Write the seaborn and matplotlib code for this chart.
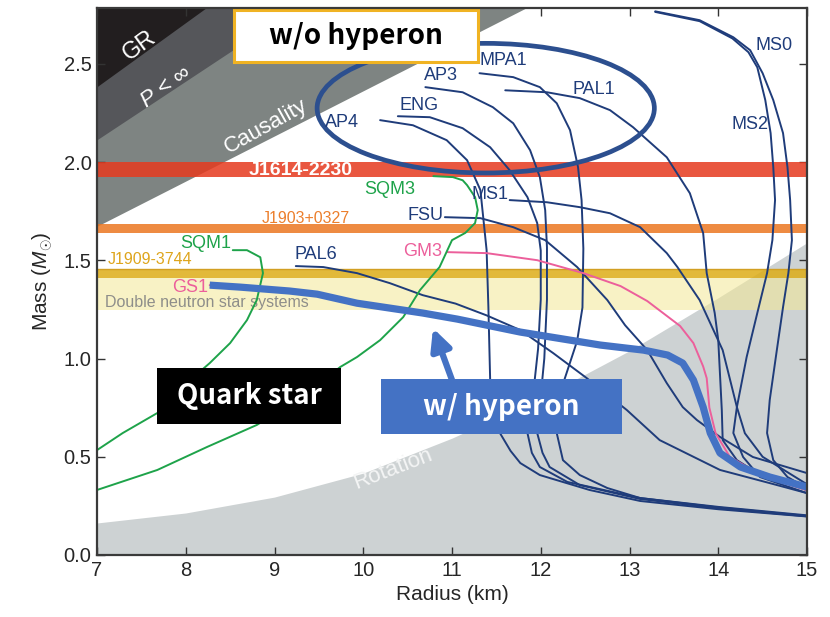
import matplotlib
matplotlib.use("Agg")
import matplotlib.pyplot as plt
from matplotlib.patches import Ellipse, Rectangle, Polygon
import seaborn as sns

# ---------------- mass-radius relations: radius (km), mass (M_sun) ----------------
ap4_r = [10.19, 10.56, 10.94, 11.17, 11.32, 11.39, 11.41, 11.43, 11.48, 11.54, 11.66, 11.77, 11.99, 12.55, 13.12, 14.0, 15.0]
ap4_m = [2.214, 2.188, 2.112, 2.010, 1.858, 1.552, 1.262, 0.891, 0.72, 0.621, 0.53, 0.468, 0.407, 0.331, 0.275, 0.233, 0.196]

eng_r = [10.39, 10.75, 11.12, 11.43, 11.65, 11.85, 11.96, 12.00, 12.00, 11.97, 11.91, 11.85, 11.90, 11.99, 12.30, 13.12, 14.0, 15.0]
eng_m = [2.234, 2.229, 2.173, 2.076, 1.959, 1.822, 1.690, 1.55, 1.30, 1.05, 0.80, 0.621, 0.52, 0.448, 0.372, 0.29, 0.242, 0.199]

ap3_r = [10.70, 11.12, 11.46, 11.69, 11.88, 11.99, 12.05, 12.07, 12.07, 12.04, 11.96, 12.02, 12.10, 12.44, 13.12, 14.0, 15.0]
ap3_m = [2.382, 2.356, 2.280, 2.198, 2.061, 1.924, 1.756, 1.567, 1.30, 1.0, 0.621, 0.52, 0.448, 0.356, 0.285, 0.238, 0.197]

mpa1_r = [11.31, 11.69, 11.99, 12.18, 12.33, 12.42, 12.46, 12.48, 12.47, 12.41, 12.25, 12.18, 12.25, 12.44, 12.75, 13.12, 14.0, 15.0]
mpa1_m = [2.453, 2.433, 2.382, 2.300, 2.163, 1.975, 1.807, 1.56, 1.26, 1.09, 0.87, 0.621, 0.483, 0.407, 0.341, 0.29, 0.245, 0.202]

pal1_r = [11.60, 12.07, 12.44, 12.78, 13.04, 13.42, 13.68, 13.83, 13.87, 13.96, 14.00, 14.04, 14.05, 14.21, 14.44, 15.0]
pal1_m = [2.366, 2.356, 2.326, 2.265, 2.178, 2.025, 1.842, 1.639, 1.435, 1.232, 1.094, 0.738, 0.585, 0.483, 0.417, 0.33]

ms0_r = [13.29, 13.79, 14.17, 14.36, 14.50, 14.62, 14.73, 14.78, 14.81, 14.83, 14.79, 14.73, 14.66, 14.58, 14.55, 14.62, 14.78, 15.0]
ms0_m = [2.768, 2.723, 2.636, 2.570, 2.453, 2.316, 2.148, 1.975, 1.807, 1.603, 1.435, 1.262, 1.043, 0.789, 0.621, 0.483, 0.397, 0.34]

ms2_r = [13.29, 13.79, 14.16, 14.34, 14.44, 14.53, 14.59, 14.62, 14.64, 14.61, 14.55, 14.44, 14.32, 14.21, 14.17, 14.28, 14.47, 15.0]
ms2_m = [2.765, 2.718, 2.630, 2.560, 2.483, 2.316, 2.148, 1.975, 1.807, 1.603, 1.435, 1.232, 1.008, 0.753, 0.621, 0.499, 0.397, 0.315]

ms1_r = [11.65, 12.07, 12.44, 12.78, 13.12, 13.42, 13.54, 13.79, 14.05, 14.21, 14.30, 14.50, 15.0]
ms1_m = [1.807, 1.796, 1.771, 1.740, 1.669, 1.537, 1.466, 1.298, 1.043, 0.753, 0.62, 0.50, 0.36]

fsu_r = [10.92, 11.32, 11.69, 12.05, 12.41, 12.75, 12.95, 13.20, 13.42, 13.60, 13.76, 14.02, 14.39, 15.0]
fsu_m = [1.720, 1.715, 1.669, 1.603, 1.466, 1.298, 1.17, 1.043, 0.875, 0.753, 0.687, 0.601, 0.499, 0.417]

pal6_r = [9.24, 9.55, 9.93, 10.30, 10.67, 11.04, 11.39, 11.77, 12.14, 12.52, 12.97, 13.34, 14.02, 14.58, 15.0]
pal6_m = [1.471, 1.466, 1.435, 1.384, 1.323, 1.28, 1.22, 1.145, 1.028, 0.90, 0.738, 0.585, 0.433, 0.366, 0.315]

gm3_r = [10.95, 11.39, 11.96, 12.48, 12.90, 13.20, 13.57, 13.72, 13.83, 13.87, 13.90, 13.97, 14.13, 14.50, 15.0]
gm3_m = [1.542, 1.537, 1.501, 1.435, 1.369, 1.293, 1.166, 1.079, 0.96, 0.90, 0.75, 0.62, 0.50, 0.40, 0.33]

gs1_r = [8.27, 8.61, 9.17, 9.48, 9.93, 10.67, 11.06, 11.77, 12.67, 13.16, 13.43, 13.60, 13.72, 13.83, 13.91, 14.02, 14.25, 14.58, 15.0]
gs1_m = [1.374, 1.364, 1.344, 1.328, 1.282, 1.232, 1.201, 1.135, 1.069, 1.043, 1.018, 0.977, 0.891, 0.753, 0.621, 0.519, 0.448, 0.397, 0.346]

sqm1_r = [8.53, 8.69, 8.84, 8.87, 8.80, 8.69, 8.50, 8.27, 8.05, 7.68, 7.29, 7.0]
sqm1_m = [1.552, 1.552, 1.516, 1.435, 1.298, 1.196, 1.079, 0.977, 0.891, 0.723, 0.621, 0.534]

sqm3_r = [10.79, 11.01, 11.12, 11.17, 11.26, 11.29, 11.26, 11.15, 11.0, 10.86, 10.64, 10.45, 10.19, 9.93, 9.74, 9.30, 8.80, 8.24, 7.68, 7.0]
sqm3_m = [1.929, 1.924, 1.908, 1.883, 1.822, 1.756, 1.690, 1.64, 1.603, 1.466, 1.349, 1.211, 1.094, 1.008, 0.957, 0.80, 0.662, 0.550, 0.433, 0.331]

# ---------------- excluded regions ----------------
gr_edge_r, gr_edge_m = [7.0, 8.24], [2.38, 2.785]          # general relativity
buch_edge_r, buch_edge_m = [7.0, 9.26], [2.11, 2.785]      # finite pressure
caus_edge_r, caus_edge_m = [7.0, 11.85], [1.67, 2.785]     # causality
rot_r = [7, 8, 9, 10, 11, 12, 13, 14, 15]                  # rotation (716 Hz)
rot_m = [0.163, 0.214, 0.295, 0.417, 0.595, 0.80, 1.04, 1.31, 1.59]

# ---------------- measured masses (lower, upper) ----------------
band_names = ["J1614-2230", "J1903+0327", "J1909-3744", "Double neutron star systems"]
band_lo = [1.925, 1.640, 1.410, 1.245]
band_hi = [2.000, 1.685, 1.455, 1.410]

NAVY = "#1f3c7a"
PINK = "#ec5f9b"
GREEN = "#1ea34a"
BLUE = "#4472c4"

curves = [
    ("AP4", ap4_r, ap4_m, NAVY), ("ENG", eng_r, eng_m, NAVY), ("AP3", ap3_r, ap3_m, NAVY),
    ("MPA1", mpa1_r, mpa1_m, NAVY), ("PAL1", pal1_r, pal1_m, NAVY), ("MS0", ms0_r, ms0_m, NAVY),
    ("MS2", ms2_r, ms2_m, NAVY), ("MS1", ms1_r, ms1_m, NAVY), ("FSU", fsu_r, fsu_m, NAVY),
    ("PAL6", pal6_r, pal6_m, NAVY), ("GM3", gm3_r, gm3_m, PINK), ("GS1", gs1_r, gs1_m, PINK),
    ("SQM1", sqm1_r, sqm1_m, GREEN), ("SQM3", sqm3_r, sqm3_m, GREEN),
]

sns.set_theme(style="ticks")
plt.rcParams["font.family"] = ["Liberation Sans", "DejaVu Sans"]
plt.rcParams["mathtext.fontset"] = "custom"
plt.rcParams["mathtext.it"] = "Liberation Sans:italic"
plt.rcParams["mathtext.rm"] = "Liberation Sans"

fig = plt.figure(figsize=(8.3, 6.17), dpi=100)
ax = fig.add_axes([97 / 830, 62 / 617, 710 / 830, 547 / 617])
ax.set_xlim(7, 15)
ax.set_ylim(0, 2.785)

TOP = 3.2
ax.fill_between(rot_r, 0, rot_m, color="#cdd2d3", lw=0, zorder=0)
ax.add_patch(Polygon([(caus_edge_r[0], caus_edge_m[0]), (caus_edge_r[1], caus_edge_m[1]),
                      (caus_edge_r[1], TOP), (caus_edge_r[0], TOP)], closed=True,
                     facecolor="#7e8482", lw=0, zorder=0.2))
ax.add_patch(Polygon([(buch_edge_r[0], buch_edge_m[0]), (buch_edge_r[1], buch_edge_m[1]),
                      (buch_edge_r[1], TOP), (buch_edge_r[0], TOP)], closed=True,
                     facecolor="#55565a", lw=0, zorder=0.3))
ax.add_patch(Polygon([(gr_edge_r[0], gr_edge_m[0]), (gr_edge_r[1], gr_edge_m[1]),
                      (gr_edge_r[1], TOP), (gr_edge_r[0], TOP)], closed=True,
                     facecolor="#221e1f", lw=0, zorder=0.4))

band_colors = ["#e63a1e", "#ec7721", "#ddad17", "#f4e996"]
band_alpha = [0.85, 0.85, 0.85, 0.55]
for lo, hi, c, a in zip(band_lo, band_hi, band_colors, band_alpha):
    ax.axhspan(lo, hi, facecolor=c, alpha=a, lw=0, zorder=1)
ax.axhline(band_hi[2], color="#d29f22", lw=1.0, zorder=1.1)

# equation-of-state curves
for name, r, m, c in curves:
    sns.lineplot(x=r, y=m, ax=ax, sort=False, estimator=None, color=c,
                 linewidth=1.4, zorder=3, solid_joinstyle="round")

# hyperonic branch highlighted
sns.lineplot(x=gs1_r, y=gs1_m, ax=ax, sort=False, estimator=None, color=BLUE,
             linewidth=5.2, zorder=5, solid_joinstyle="round", solid_capstyle="butt")

# group of nucleonic models
ax.add_patch(Ellipse((11.38, 2.275), 3.8, 0.66, fill=False, edgecolor="#2c4f8f", lw=3.4, zorder=4))

# curve labels
labels = [
    ("MS0", 14.63, 2.593, NAVY), ("MS2", 14.36, 2.19, NAVY), ("MPA1", 11.58, 2.517, NAVY),
    ("AP3", 10.88, 2.44, NAVY), ("PAL1", 12.60, 2.369, NAVY), ("ENG", 10.63, 2.288, NAVY),
    ("AP4", 9.76, 2.20, NAVY), ("MS1", 11.43, 1.835, NAVY), ("FSU", 10.70, 1.728, NAVY),
    ("PAL6", 9.47, 1.529, NAVY), ("GM3", 10.67, 1.545, PINK), ("GS1", 8.05, 1.364, PINK),
    ("SQM1", 8.22, 1.585, GREEN), ("SQM3", 10.30, 1.863, GREEN),
]
for t, x, y, c in labels:
    ax.text(x, y, t, color=c, fontsize=13, ha="center", va="center", zorder=7)

ax.text(9.29, 1.959, band_names[0], color="white", fontsize=14, fontweight="bold",
        ha="center", va="center", zorder=7)
ax.text(9.355, 1.712, band_names[1], color="#ec7f2c", fontsize=11.5, ha="center", va="center", zorder=7)
ax.text(7.60, 1.504, band_names[2], color="#dea51c", fontsize=11.5, ha="center", va="center", zorder=7)
ax.text(8.24, 1.288, band_names[3], color="#8e8e8a", fontsize=11.5, ha="center", va="center", zorder=2)

ax.text(7.48, 2.595, "GR", color="white", fontsize=17, rotation=36, ha="center", va="center", zorder=2)
ax.text(7.78, 2.38, r"$P$ < ∞", color="white", fontsize=16, rotation=36, ha="center", va="center", zorder=2)
ax.text(8.90, 2.183, "Causality", color="white", fontsize=16, rotation=29, ha="center", va="center", zorder=2)
ax.text(10.33, 0.438, "Rotation", color="#f4f5f5", fontsize=16, rotation=21, ha="center", va="center", zorder=2)

# annotation boxes
box_font = ["Noto Sans CJK JP", "DejaVu Sans"]
ax.add_patch(Rectangle((8.544, 2.509), 11.293 - 8.544, 2.774 - 2.509, facecolor="white",
                       edgecolor="#f0b323", lw=2.2, zorder=8))
ax.text((8.544 + 11.293) / 2, (2.509 + 2.774) / 2, "w/o hyperon", family=box_font, fontweight="bold",
        fontsize=20, color="black", ha="center", va="center", zorder=9)

ax.add_patch(Rectangle((7.676, 0.667), 9.749 - 7.676, 0.952 - 0.667, facecolor="black", lw=0, zorder=8))
ax.text((7.676 + 9.749) / 2, (0.667 + 0.952) / 2, "Quark star", family=box_font, fontweight="bold",
        fontsize=20, color="white", ha="center", va="center", zorder=9)

ax.add_patch(Rectangle((10.20, 0.616), 12.916 - 10.20, 0.896 - 0.616, facecolor=BLUE, lw=0, zorder=8))
ax.text((10.20 + 12.916) / 2, (0.616 + 0.896) / 2, "w/ hyperon", family=box_font, fontweight="bold",
        fontsize=20, color="white", ha="center", va="center", zorder=9)

ax.annotate("", xy=(10.786, 1.155), xytext=(11.0, 0.891), zorder=8,
            arrowprops=dict(arrowstyle="-|>,head_length=0.45,head_width=0.22", lw=4.5,
                            color=BLUE, shrinkA=0, shrinkB=0, mutation_scale=28))

# axes styling
ax.set_xticks(range(7, 16))
ax.set_yticks([0.0, 0.5, 1.0, 1.5, 2.0, 2.5])
ax.set_yticklabels(["0.0", "0.5", "1.0", "1.5", "2.0", "2.5"])
ax.tick_params(direction="in", length=6, width=1.0, top=True, right=True, color="#333333",
               labelsize=14.5, pad=4)
tick_font = ["Liberation Sans Narrow", "Liberation Sans"]
for lab in ax.get_xticklabels() + ax.get_yticklabels():
    lab.set_family(tick_font)
for s in ax.spines.values():
    s.set_color("#3a3a3a")
    s.set_linewidth(1.6)
    s.set_zorder(10)
ax.set_xlabel("Radius (km)", fontsize=15, family=tick_font, labelpad=4)
ax.set_ylabel(r"Mass ($M_{\odot}$)", fontsize=15, family=tick_font, labelpad=6)

fig.savefig("out.png", dpi=100)
